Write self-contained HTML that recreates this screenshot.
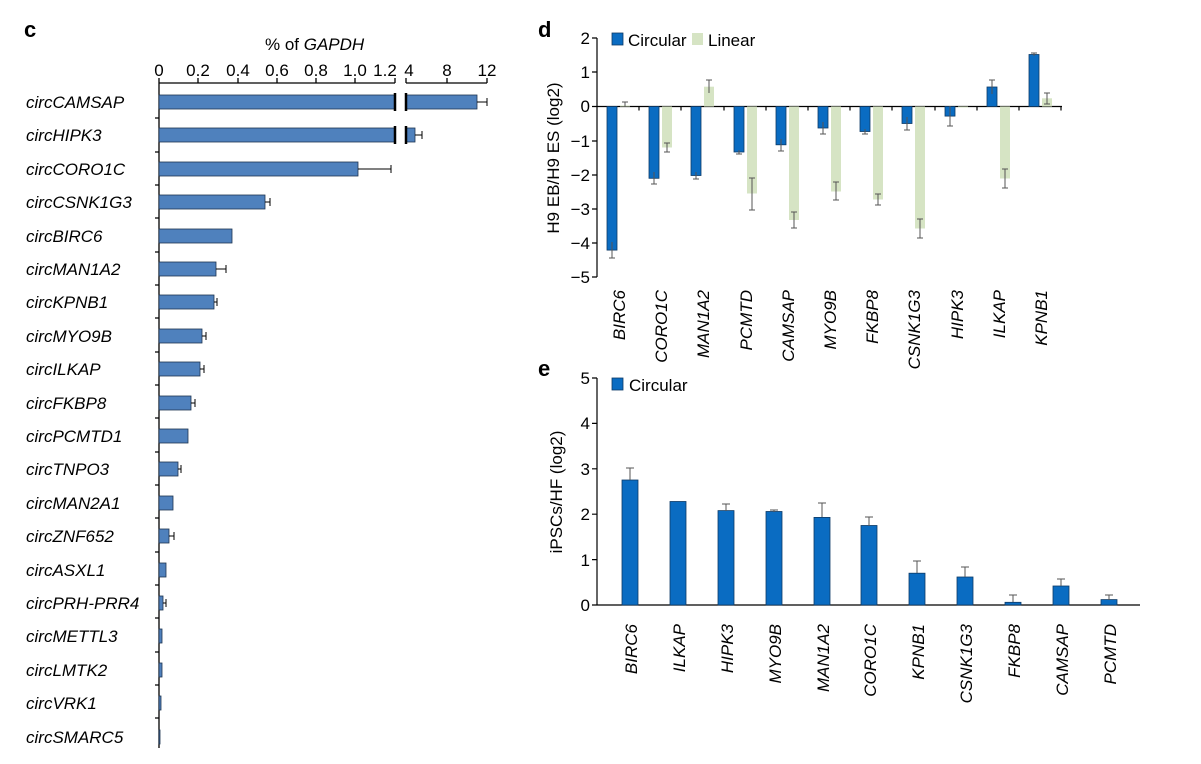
<!DOCTYPE html><html><head><style>body{margin:0;background:#fff}svg{font-family:"Liberation Sans",Arial,sans-serif}</style></head><body>
<svg width="1201" height="759" xmlns="http://www.w3.org/2000/svg">
<g font-weight="bold" font-size="22"><text x="24" y="37">c</text><text x="538" y="37">d</text><text x="538" y="376">e</text></g>
<!-- panel c -->
<text x="265" y="50" font-size="17">% of <tspan font-style="italic">GAPDH</tspan></text>
<g font-size="17" text-anchor="middle">
<text x="159" y="76">0</text><text x="198" y="76">0.2</text><text x="238" y="76">0.4</text><text x="277" y="76">0.6</text><text x="316" y="76">0.8</text><text x="355" y="76">1.0</text><text x="385" y="76">1.2</text><text x="409" y="76">4</text><text x="447" y="76">8</text><text x="487" y="76">12</text></g>
<g stroke="#000" stroke-width="1.3" fill="none">
<path d="M159 83H395M159 83v-5M198 83v-5M238 83v-5M277 83v-5M316 83v-5M355 83v-5M395 83v-5M406 83H487M406 83v-5M447 83v-5M487 83v-5"/>
<path d="M159 83V748M159 118h-4M159 152h-4M159 185h-4M159 218h-4M159 252h-4M159 285h-4M159 318h-4M159 352h-4M159 385h-4M159 418h-4M159 452h-4M159 485h-4M159 518h-4M159 552h-4M159 585h-4M159 618h-4M159 652h-4M159 685h-4M159 718h-4"/>
</g>
<g fill="#4f81bd" stroke="#1f3550" stroke-width="0.8">
<rect x="159" y="95" width="236" height="14"/><rect x="406" y="95" width="71" height="14"/>
<rect x="159" y="128" width="236" height="14"/><rect x="406" y="128" width="9" height="14"/>
<rect x="159" y="162" width="199" height="14"/>
<rect x="159" y="195" width="106" height="14"/>
<rect x="159" y="229" width="73" height="14"/>
<rect x="159" y="262" width="57" height="14"/>
<rect x="159" y="295" width="55" height="14"/>
<rect x="159" y="329" width="43" height="14"/>
<rect x="159" y="362" width="41" height="14"/>
<rect x="159" y="396" width="32" height="14"/>
<rect x="159" y="429" width="29" height="14"/>
<rect x="159" y="462" width="19" height="14"/>
<rect x="159" y="496" width="14" height="14"/>
<rect x="159" y="529" width="10" height="14"/>
<rect x="159" y="563" width="7" height="14"/>
<rect x="159" y="596" width="4" height="14"/>
<rect x="159" y="629" width="3" height="14"/>
<rect x="159" y="663" width="3" height="14"/>
<rect x="159" y="696" width="2" height="14"/>
<rect x="159" y="730" width="1" height="14"/>
</g>
<g stroke="#000" stroke-width="2.5"><path d="M395 93v18M406 93v18M395 126v18M406 126v18"/></g>
<g stroke="#000" stroke-width="1"><path d="M477 102H487M487 98v8M415 135H422M422 131v8M358 169H391M391 165v8M265 202H270M270 198v8M216 269H226M226 265v8M214 302h3M217 298v8M202 336h4M206 332v8M200 369h4M204 365v8M191 403h4M195 399v8M178 469h3M181 465v8M169 536h5M174 532v8M163 603h3M166 599v8"/></g>
<g font-size="17" font-style="italic">
<text x="26" y="108">circCAMSAP</text><text x="26" y="141">circHIPK3</text><text x="26" y="175">circCORO1C</text><text x="26" y="208">circCSNK1G3</text><text x="26" y="242">circBIRC6</text><text x="26" y="275">circMAN1A2</text><text x="26" y="308">circKPNB1</text><text x="26" y="342">circMYO9B</text><text x="26" y="375">circILKAP</text><text x="26" y="409">circFKBP8</text><text x="26" y="442">circPCMTD1</text><text x="26" y="475">circTNPO3</text><text x="26" y="509">circMAN2A1</text><text x="26" y="542">circZNF652</text><text x="26" y="576">circASXL1</text><text x="26" y="609">circPRH-PRR4</text><text x="26" y="642">circMETTL3</text><text x="26" y="676">circLMTK2</text><text x="26" y="709">circVRK1</text><text x="26" y="743">circSMARC5</text></g>
<!-- panel d -->
<g font-size="17" text-anchor="end">
<text x="590" y="44">2</text><text x="590" y="78">1</text><text x="590" y="112">0</text><text x="590" y="147">−1</text><text x="590" y="181">−2</text><text x="590" y="215">−3</text><text x="590" y="249">−4</text><text x="590" y="283">−5</text></g>
<text transform="translate(559,158) rotate(-90)" font-size="17" text-anchor="middle">H9 EB/H9 ES (log2)</text>
<g stroke="#000" stroke-width="1.2" fill="none"><path d="M597 38V277M597 38h-5M597 72h-5M597 106.5h-5M597 141h-5M597 175h-5M597 209h-5M597 243h-5M597 277h-5M597 106.5H1062M639 106.5v4M681 106.5v4M724 106.5v4M766 106.5v4M808 106.5v4M850 106.5v4M892 106.5v4M935 106.5v4M977 106.5v4M1019 106.5v4M1061 106.5v4"/></g>
<rect x="612" y="33" width="11" height="12" fill="#0a6cc2" stroke="#0d3a66" stroke-width="0.8"/><text x="628" y="46" font-size="17">Circular</text>
<rect x="692" y="33" width="11" height="12" fill="#d6e4c4"/><text x="708" y="46" font-size="17">Linear</text>
<g fill="#d6e4c4">
<rect x="620" y="105.5" width="10" height="1"/><rect x="662" y="106.5" width="10" height="41"/><rect x="704" y="86.7" width="10" height="19.8"/><rect x="747" y="106.5" width="10" height="87"/><rect x="789" y="106.5" width="10" height="113.5"/><rect x="831" y="106.5" width="10" height="85"/><rect x="873" y="106.5" width="10" height="93"/><rect x="915" y="106.5" width="10" height="122"/><rect x="958" y="106.5" width="10" height="1"/><rect x="1000" y="106.5" width="10" height="72"/><rect x="1042" y="98.3" width="10" height="8.2"/></g>
<g fill="#0a6cc2" stroke="#0d3a66" stroke-width="0.8">
<rect x="607" y="106.5" width="10" height="143.6"/><rect x="649" y="106.5" width="10" height="71.8"/><rect x="691" y="106.5" width="10" height="69"/><rect x="734" y="106.5" width="10" height="45.5"/><rect x="776" y="106.5" width="10" height="38.3"/><rect x="818" y="106.5" width="10" height="21.5"/><rect x="860" y="106.5" width="10" height="25"/><rect x="902" y="106.5" width="10" height="17"/><rect x="945" y="106.5" width="10" height="9.6"/><rect x="987" y="87" width="10" height="19.5"/><rect x="1029" y="54.5" width="10" height="52"/></g>
<g stroke="#555" stroke-width="1"><path d="M612 242V258M609 258h6M625 102V107M622 102h6M654 172V184M651 184h6M667 143V152M664 143h6M664 152h6M696 172V179M693 179h6M709 80V93M706 80h6M739 150V154M736 154h6M752 178V210M749 178h6M749 210h6M781 139V151M778 151h6M794 212V228M791 212h6M791 228h6M823 122V134M820 134h6M836 182V200M833 182h6M833 200h6M865 129V134M862 134h6M878 194V205M875 194h6M875 205h6M907 117V130M904 130h6M920 219V238M917 219h6M917 238h6M950 106V126M947 126h6M992 80V94M989 80h6M1005 169V188M1002 169h6M1002 188h6M1034 53V56M1031 53h6M1047 93V104M1044 93h6M1044 104h6"/></g>
<g font-size="17" font-style="italic" text-anchor="end">
<text transform="translate(625,290) rotate(-90)">BIRC6</text><text transform="translate(667,290) rotate(-90)">CORO1C</text><text transform="translate(709,290) rotate(-90)">MAN1A2</text><text transform="translate(752,290) rotate(-90)">PCMTD</text><text transform="translate(794,290) rotate(-90)">CAMSAP</text><text transform="translate(836,290) rotate(-90)">MYO9B</text><text transform="translate(878,290) rotate(-90)">FKBP8</text><text transform="translate(920,290) rotate(-90)">CSNK1G3</text><text transform="translate(963,290) rotate(-90)">HIPK3</text><text transform="translate(1005,290) rotate(-90)">ILKAP</text><text transform="translate(1047,290) rotate(-90)">KPNB1</text></g>
<!-- panel e -->
<g font-size="17" text-anchor="end">
<text x="590" y="384">5</text><text x="590" y="429">4</text><text x="590" y="475">3</text><text x="590" y="520">2</text><text x="590" y="566">1</text><text x="590" y="611">0</text></g>
<text transform="translate(562,492) rotate(-90)" font-size="17" text-anchor="middle">iPSCs/HF (log2)</text>
<g stroke="#000" stroke-width="1.2" fill="none"><path d="M597 378V605M597 378h-5M597 423.4h-5M597 468.8h-5M597 514.2h-5M597 559.6h-5M597 605h-5M597 605H1140"/></g>
<rect x="612" y="378" width="11" height="12" fill="#0a6cc2" stroke="#0d3a66" stroke-width="0.8"/><text x="629" y="391" font-size="17">Circular</text>
<g fill="#0a6cc2" stroke="#0d3a66" stroke-width="0.8">
<rect x="622" y="480" width="16" height="125"/><rect x="670" y="501.5" width="16" height="103.5"/><rect x="718" y="510.6" width="16" height="94.4"/><rect x="766" y="511.5" width="16" height="93.5"/><rect x="814" y="517.4" width="16" height="87.6"/><rect x="861" y="525.5" width="16" height="79.5"/><rect x="909" y="573.2" width="16" height="31.8"/><rect x="957" y="577" width="16" height="28"/><rect x="1005" y="602.3" width="16" height="2.7"/><rect x="1053" y="586" width="16" height="19"/><rect x="1101" y="599.6" width="16" height="5.4"/></g>
<g stroke="#555" stroke-width="1"><path d="M630 468V480M626 468h8M726 504V511M722 504h8M774 510V512M770 510h8M822 503V517M818 503h8M869 517V526M865 517h8M917 561V573M913 561h8M965 567V577M961 567h8M1013 595V602M1009 595h8M1061 579V586M1057 579h8M1109 595V600M1105 595h8"/></g>
<g font-size="17" font-style="italic" text-anchor="end">
<text transform="translate(637,624) rotate(-90)">BIRC6</text><text transform="translate(685,624) rotate(-90)">ILKAP</text><text transform="translate(733,624) rotate(-90)">HIPK3</text><text transform="translate(781,624) rotate(-90)">MYO9B</text><text transform="translate(829,624) rotate(-90)">MAN1A2</text><text transform="translate(876,624) rotate(-90)">CORO1C</text><text transform="translate(924,624) rotate(-90)">KPNB1</text><text transform="translate(972,624) rotate(-90)">CSNK1G3</text><text transform="translate(1020,624) rotate(-90)">FKBP8</text><text transform="translate(1068,624) rotate(-90)">CAMSAP</text><text transform="translate(1116,624) rotate(-90)">PCMTD</text></g>
</svg></body></html>
